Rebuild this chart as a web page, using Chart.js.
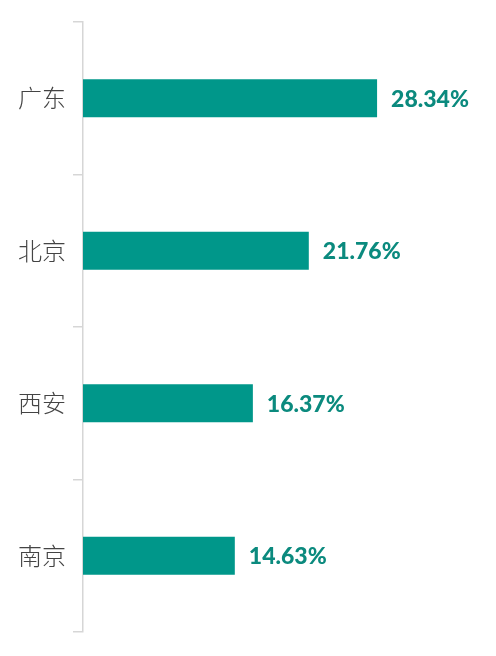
<!DOCTYPE html>
<html>
<head>
<meta charset="utf-8">
<script src="https://cdn.jsdelivr.net/npm/chart.js@4"></script>
<style>
  html, body { margin: 0; padding: 0; background: #fff; }
  #wrap { width: 496px; height: 656px; }
</style>
</head>
<body>
<div id="wrap"><canvas id="share"></canvas></div>
<script>
const cities = ['广东', '北京', '西安', '南京'];
const shares = [28.34, 21.76, 16.37, 14.63];

// writes "xx.xx%" just past the end of each bar
const valueLabels = {
  id: 'valueLabels',
  afterDatasetsDraw(chart) {
    const ctx = chart.ctx;
    const meta = chart.getDatasetMeta(0);
    ctx.save();
    ctx.font = '900 23px Lato';
    ctx.fillStyle = '#0b8a7e';
    ctx.textAlign = 'left';
    ctx.textBaseline = 'middle';
    meta.data.forEach((bar, i) => {
      ctx.fillText(shares[i].toFixed(2) + '%', bar.x + 14, bar.y + 1);
    });
    ctx.restore();
  }
};

new Chart(document.getElementById('share'), {
  type: 'bar',
  data: {
    labels: cities,
    datasets: [{
      data: shares,
      backgroundColor: '#00978a',
      borderWidth: 0,
      barPercentage: 0.25,
      categoryPercentage: 1
    }]
  },
  options: {
    indexAxis: 'y',
    responsive: true,
    maintainAspectRatio: false,
    animation: false,
    layout: { padding: { top: 22, bottom: 24, left: 11, right: 0 } },
    plugins: {
      legend: { display: false },
      tooltip: { enabled: false }
    },
    scales: {
      x: {
        display: false,
        min: 0,
        max: 39.8
      },
      y: {
        grid: {
          drawOnChartArea: false,
          color: '#d6d6d6',
          lineWidth: 1.5,
          tickLength: 10
        },
        border: { color: '#d6d6d6', width: 1.5 },
        ticks: {
          color: '#444',
          padding: 7,
          font: { family: '"Noto Sans CJK SC"', size: 24, weight: 300 }
        }
      }
    }
  },
  plugins: [valueLabels]
});
</script>
</body>
</html>
